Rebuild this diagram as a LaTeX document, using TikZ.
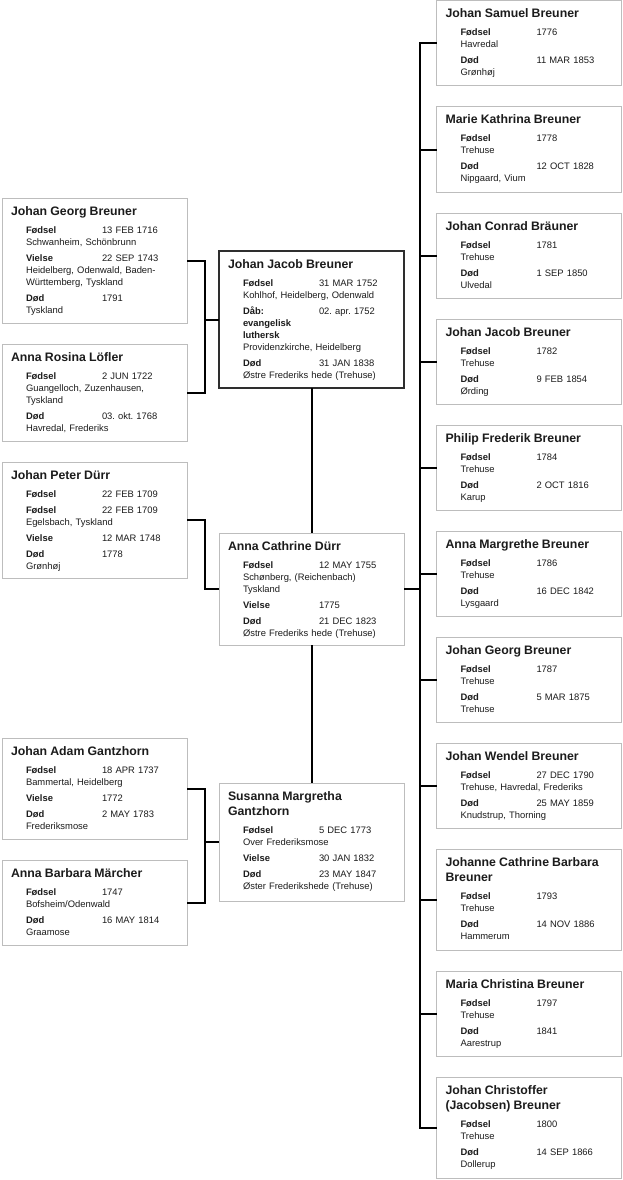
\documentclass[tikz,border=0pt]{standalone}
\usepackage{fontspec}
\setmainfont{Liberation Sans}
\usepackage{tikz}
\usetikzlibrary{positioning}
\definecolor{boxgray}{HTML}{BDBDBD}
\definecolor{inkdark}{HTML}{1C1C1C}
\definecolor{focusline}{HTML}{2E2E2E}
\frenchspacing

\newcommand{\pname}[1]{{\fontsize{12.3}{15}\selectfont\bfseries #1}}
\newcommand{\ev}[2]{\hspace*{15pt}\makebox[76pt][l]{\bfseries #1}#2}
\newcommand{\pl}[1]{\hspace*{15pt}#1}

\begin{document}
\begin{tikzpicture}[x=1pt, y=-1pt,
  person/.style={draw=boxgray, line width=1pt, fill=white, anchor=north west, outer sep=0pt,
    minimum width=185pt, text width=167pt, inner xsep=9pt, inner ysep=0pt, align=left,
    text height=17pt, font=\fontsize{9.4}{12}\selectfont, text=inkdark},
  focus/.style={person, draw=focusline, line width=2pt},
  link/.style={line width=2pt, black}
]
\useasboundingbox (0,0) rectangle (623,1180);

\node[person, text depth=108pt] (jgb) at (2,198) {\pname{Johan Georg Breuner}\\[6pt]
  \ev{Fødsel}{13 FEB 1716}\\ \pl{Schwanheim, Schönbrunn}\\[4pt]
  \ev{Vielse}{22 SEP 1743}\\ \pl{Heidelberg, Odenwald, Baden-}\\ \pl{Württemberg, Tyskland}\\[4pt]
  \ev{Død}{1791}\\ \pl{Tyskland}};
\node[person, text depth=80pt] (ars) at (2,344) {\pname{Anna Rosina Löfler}\\[6pt]
  \ev{Fødsel}{2 JUN 1722}\\ \pl{Guangelloch, Zuzenhausen,}\\ \pl{Tyskland}\\[4pt]
  \ev{Død}{03. okt. 1768}\\ \pl{Havredal, Frederiks}};
\node[person, text depth=99pt] (jpd) at (2,462) {\pname{Johan Peter Dürr}\\[6pt]
  \ev{Fødsel}{22 FEB 1709}\\[4pt]
  \ev{Fødsel}{22 FEB 1709}\\ \pl{Egelsbach, Tyskland}\\[4pt]
  \ev{Vielse}{12 MAR 1748}\\[4pt]
  \ev{Død}{1778}\\ \pl{Grønhøj}};
\node[person, text depth=84pt] (jag) at (2,738) {\pname{Johan Adam Gantzhorn}\\[6pt]
  \ev{Fødsel}{18 APR 1737}\\ \pl{Bammertal, Heidelberg}\\[4pt]
  \ev{Vielse}{1772}\\[4pt]
  \ev{Død}{2 MAY 1783}\\ \pl{Frederiksmose}};
\node[person, text depth=68pt] (abm) at (2,860) {\pname{Anna Barbara Märcher}\\[6pt]
  \ev{Fødsel}{1747}\\ \pl{Bofsheim/Odenwald}\\[4pt]
  \ev{Død}{16 MAY 1814}\\ \pl{Graamose}};

\node[focus, text depth=120pt] (jjb) at (219,251) {\pname{Johan Jacob Breuner}\\[6pt]
  \ev{Fødsel}{31 MAR 1752}\\ \pl{Kohlhof, Heidelberg, Odenwald}\\[4pt]
  \ev{Dåb:}{02. apr. 1752}\\ \pl{\textbf{evangelisk}}\\ \pl{\textbf{luthersk}}\\ \pl{Providenzkirche, Heidelberg}\\[4pt]
  \ev{Død}{31 JAN 1838}\\ \pl{Østre Frederiks hede (Trehuse)}};
\node[person, text depth=95pt] (acd) at (219,533) {\pname{Anna Cathrine Dürr}\\[6pt]
  \ev{Fødsel}{12 MAY 1755}\\ \pl{Schønberg, (Reichenbach)}\\ \pl{Tyskland}\\[4pt]
  \ev{Vielse}{1775}\\[4pt]
  \ev{Død}{21 DEC 1823}\\ \pl{Østre Frederiks hede (Trehuse)}};
\node[person, text depth=101pt] (smg) at (219,783) {\pname{Susanna Margretha}\\[3pt]\pname{Gantzhorn}\\[6pt]
  \ev{Fødsel}{5 DEC 1773}\\ \pl{Over Frederiksmose}\\[4pt]
  \ev{Vielse}{30 JAN 1832}\\[4pt]
  \ev{Død}{23 MAY 1847}\\ \pl{Øster Frederikshede (Trehuse)}};

\node[person, text depth=68pt] (c1) at (436.5,1) {\pname{Johan Samuel Breuner}\\[6pt]
  \ev{Fødsel}{1776}\\ \pl{Havredal}\\[4pt]
  \ev{Død}{11 MAR 1853}\\ \pl{Grønhøj}};
\node[person, text depth=68pt, below=21pt of c1] (c2) {\pname{Marie Kathrina Breuner}\\[6pt]
  \ev{Fødsel}{1778}\\ \pl{Trehuse}\\[4pt]
  \ev{Død}{12 OCT 1828}\\ \pl{Nipgaard, Vium}};
\node[person, text depth=68pt, below=21pt of c2] (c3) {\pname{Johan Conrad Bräuner}\\[6pt]
  \ev{Fødsel}{1781}\\ \pl{Trehuse}\\[4pt]
  \ev{Død}{1 SEP 1850}\\ \pl{Ulvedal}};
\node[person, text depth=68pt, below=21pt of c3] (c4) {\pname{Johan Jacob Breuner}\\[6pt]
  \ev{Fødsel}{1782}\\ \pl{Trehuse}\\[4pt]
  \ev{Død}{9 FEB 1854}\\ \pl{Ørding}};
\node[person, text depth=68pt, below=21pt of c4] (c5) {\pname{Philip Frederik Breuner}\\[6pt]
  \ev{Fødsel}{1784}\\ \pl{Trehuse}\\[4pt]
  \ev{Død}{2 OCT 1816}\\ \pl{Karup}};
\node[person, text depth=68pt, below=21pt of c5] (c6) {\pname{Anna Margrethe Breuner}\\[6pt]
  \ev{Fødsel}{1786}\\ \pl{Trehuse}\\[4pt]
  \ev{Død}{16 DEC 1842}\\ \pl{Lysgaard}};
\node[person, text depth=68pt, below=21pt of c6] (c7) {\pname{Johan Georg Breuner}\\[6pt]
  \ev{Fødsel}{1787}\\ \pl{Trehuse}\\[4pt]
  \ev{Død}{5 MAR 1875}\\ \pl{Trehuse}};
\node[person, text depth=68pt, below=21pt of c7] (c8) {\pname{Johan Wendel Breuner}\\[6pt]
  \ev{Fødsel}{27 DEC 1790}\\ \pl{Trehuse, Havredal, Frederiks}\\[4pt]
  \ev{Død}{25 MAY 1859}\\ \pl{Knudstrup, Thorning}};
\node[person, text depth=84pt, below=21pt of c8] (c9) {\pname{Johanne Cathrine Barbara}\\[3pt]\pname{Breuner}\\[6pt]
  \ev{Fødsel}{1793}\\ \pl{Trehuse}\\[4pt]
  \ev{Død}{14 NOV 1886}\\ \pl{Hammerum}};
\node[person, text depth=68pt, below=21pt of c9] (c10) {\pname{Maria Christina Breuner}\\[6pt]
  \ev{Fødsel}{1797}\\ \pl{Trehuse}\\[4pt]
  \ev{Død}{1841}\\ \pl{Aarestrup}};
\node[person, text depth=84pt, below=21pt of c10] (c11) {\pname{Johan Christoffer}\\[3pt]\pname{(Jacobsen) Breuner}\\[6pt]
  \ev{Fødsel}{1800}\\ \pl{Trehuse}\\[4pt]
  \ev{Død}{14 SEP 1866}\\ \pl{Dollerup}};

\draw[link] (jgb.east) -- ++(18,0) |- (ars.east);
\draw[link] (jjb.west) -- ++(-14,0);
\draw[link] (jpd.east) -- ++(18,0) |- (acd.west);
\draw[link] (jag.east) -- ++(18,0) |- (abm.east);
\draw[link] (smg.west) -- ++(-14,0);
\draw[link] (jjb.south) -- (acd.north);
\draw[link] (acd.south) -- (smg.north);
\draw[link] (acd.east) -- ++(16,0);
\draw[link] (c1.west) -- ++(-16.5,0) |- (c11.west);
\foreach \c in {c2,c3,c4,c5,c6,c7,c8,c9,c10} \draw[link] (\c.west) -- ++(-16.5,0);
\end{tikzpicture}
\end{document}
